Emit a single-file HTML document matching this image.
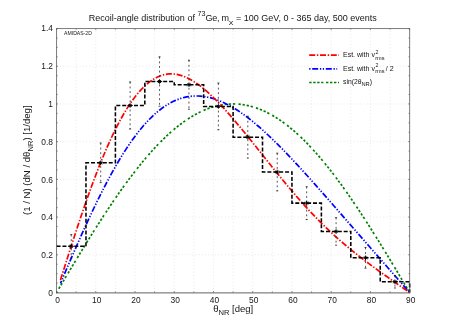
<!DOCTYPE html><html><head><meta charset="utf-8"><style>html,body{margin:0;padding:0;background:#fff}svg{display:block;will-change:transform}text{font-family:"Liberation Sans",sans-serif;fill:#151515}</style></head><body>
<svg width="458" height="321" viewBox="0 0 458 321">
<rect width="458" height="321" fill="#fff"/>
<path d="M76.17,292.50 V28.55 M95.78,292.50 V28.55 M115.40,292.50 V28.55 M135.02,292.50 V28.55 M154.63,292.50 V28.55 M174.25,292.50 V28.55 M193.87,292.50 V28.55 M213.48,292.50 V28.55 M233.10,292.50 V28.55 M252.72,292.50 V28.55 M272.33,292.50 V28.55 M291.95,292.50 V28.55 M311.57,292.50 V28.55 M331.18,292.50 V28.55 M350.80,292.50 V28.55 M370.42,292.50 V28.55 M390.03,292.50 V28.55 M56.55,254.79 H409.65 M56.55,217.09 H409.65 M56.55,179.38 H409.65 M56.55,141.67 H409.65 M56.55,103.96 H409.65 M56.55,66.26 H409.65" stroke="#e0e0e0" stroke-width="0.7" stroke-dasharray="1,2.3" fill="none"/>
<path d="M56.55,292.50 L58.51,289.21 L60.47,285.92 L62.43,282.63 L64.40,279.35 L66.36,276.07 L68.32,272.79 L70.28,269.52 L72.24,266.26 L74.20,263.01 L76.17,259.76 L78.13,256.53 L80.09,253.30 L82.05,250.09 L84.01,246.89 L85.97,243.70 L87.94,240.53 L89.90,237.38 L91.86,234.24 L93.82,231.12 L95.78,228.02 L97.74,224.93 L99.71,221.87 L101.67,218.83 L103.63,215.82 L105.59,212.82 L107.55,209.85 L109.51,206.91 L111.48,203.99 L113.44,201.10 L115.40,198.23 L117.36,195.40 L119.32,192.59 L121.28,189.82 L123.25,187.07 L125.21,184.36 L127.17,181.68 L129.13,179.04 L131.09,176.43 L133.06,173.85 L135.02,171.31 L136.98,168.81 L138.94,166.34 L140.90,163.92 L142.86,161.53 L144.82,159.19 L146.79,156.88 L148.75,154.61 L150.71,152.39 L152.67,150.21 L154.63,148.07 L156.59,145.98 L158.56,143.93 L160.52,141.93 L162.48,139.97 L164.44,138.06 L166.40,136.20 L168.36,134.38 L170.33,132.61 L172.29,130.89 L174.25,129.22 L176.21,127.60 L178.17,126.03 L180.13,124.51 L182.10,123.05 L184.06,121.63 L186.02,120.26 L187.98,118.95 L189.94,117.69 L191.90,116.49 L193.87,115.33 L195.83,114.24 L197.79,113.19 L199.75,112.20 L201.71,111.27 L203.67,110.39 L205.64,109.56 L207.60,108.80 L209.56,108.08 L211.52,107.43 L213.48,106.83 L215.44,106.29 L217.41,105.80 L219.37,105.37 L221.33,105.00 L223.29,104.68 L225.25,104.42 L227.21,104.22 L229.18,104.08 L231.14,103.99 L233.10,103.96 L235.06,103.99 L237.02,104.08 L238.98,104.22 L240.95,104.42 L242.91,104.68 L244.87,105.00 L246.83,105.37 L248.79,105.80 L250.75,106.29 L252.72,106.83 L254.68,107.43 L256.64,108.08 L258.60,108.80 L260.56,109.56 L262.52,110.39 L264.49,111.27 L266.45,112.20 L268.41,113.19 L270.37,114.24 L272.33,115.33 L274.29,116.49 L276.26,117.69 L278.22,118.95 L280.18,120.26 L282.14,121.63 L284.10,123.05 L286.06,124.51 L288.03,126.03 L289.99,127.60 L291.95,129.22 L293.91,130.89 L295.87,132.61 L297.83,134.38 L299.80,136.20 L301.76,138.06 L303.72,139.97 L305.68,141.93 L307.64,143.93 L309.60,145.98 L311.57,148.07 L313.53,150.21 L315.49,152.39 L317.45,154.61 L319.41,156.88 L321.38,159.19 L323.34,161.53 L325.30,163.92 L327.26,166.34 L329.22,168.81 L331.18,171.31 L333.14,173.85 L335.11,176.43 L337.07,179.04 L339.03,181.68 L340.99,184.36 L342.95,187.07 L344.91,189.82 L346.88,192.59 L348.84,195.40 L350.80,198.23 L352.76,201.10 L354.72,203.99 L356.69,206.91 L358.65,209.85 L360.61,212.82 L362.57,215.82 L364.53,218.83 L366.49,221.87 L368.45,224.93 L370.42,228.02 L372.38,231.12 L374.34,234.24 L376.30,237.38 L378.26,240.53 L380.22,243.70 L382.19,246.89 L384.15,250.09 L386.11,253.30 L388.07,256.53 L390.03,259.76 L391.99,263.01 L393.96,266.26 L395.92,269.52 L397.88,272.79 L399.84,276.07 L401.80,279.35 L403.76,282.63 L405.73,285.92 L407.69,289.21 L409.65,292.50" stroke="#008000" stroke-width="1.7" stroke-dasharray="2.3,1.8,2.3,1.8,2.3,1.8,2.3,3.3" stroke-dashoffset="13.5" fill="none"/>
<path d="M60.47,283.30 L62.41,278.75 L64.35,274.22 L66.29,269.69 L68.23,265.18 L70.17,260.69 L72.11,256.21 L74.05,251.76 L75.99,247.33 L77.93,242.93 L79.87,238.56 L81.81,234.22 L83.75,229.92 L85.69,225.65 L87.63,221.42 L89.57,217.24 L91.51,213.10 L93.45,209.01 L95.39,204.97 L97.33,200.98 L99.27,197.04 L101.21,193.16 L103.15,189.33 L105.09,185.57 L107.03,181.87 L108.97,178.23 L110.91,174.66 L112.85,171.15 L114.79,167.71 L116.73,164.34 L118.67,161.05 L120.61,157.82 L122.55,154.68 L124.49,151.60 L126.43,148.61 L128.37,145.69 L130.31,142.85 L132.25,140.09 L134.19,137.41 L136.13,134.82 L138.07,132.30 L140.01,129.87 L141.95,127.52 L143.89,125.26 L145.83,123.08 L147.77,120.99 L149.71,118.98 L151.65,117.06 L153.59,115.22 L155.53,113.47 L157.47,111.81 L159.41,110.23 L161.35,108.73 L163.29,107.32 L165.23,106.00 L167.17,104.76 L169.11,103.61 L171.05,102.54 L172.99,101.55 L174.93,100.65 L176.87,99.83 L178.81,99.09 L180.75,98.43 L182.69,97.85 L184.63,97.35 L186.56,96.93 L188.50,96.59 L190.44,96.32 L192.38,96.13 L194.32,96.02 L196.26,95.98 L198.20,96.01 L200.14,96.11 L202.08,96.28 L204.02,96.53 L205.96,96.84 L207.90,97.21 L209.84,97.66 L211.78,98.16 L213.72,98.74 L215.66,99.37 L217.60,100.06 L219.54,100.81 L221.48,101.62 L223.42,102.49 L225.36,103.41 L227.30,104.39 L229.24,105.42 L231.18,106.50 L233.12,107.63 L235.06,108.81 L237.00,110.03 L238.94,111.30 L240.88,112.62 L242.82,113.98 L244.76,115.38 L246.70,116.82 L248.64,118.30 L250.58,119.82 L252.52,121.38 L254.46,122.97 L256.40,124.60 L258.34,126.26 L260.28,127.95 L262.22,129.67 L264.16,131.42 L266.10,133.20 L268.04,135.00 L269.98,136.84 L271.92,138.69 L273.86,140.57 L275.80,142.48 L277.74,144.40 L279.68,146.35 L281.62,148.32 L283.56,150.30 L285.50,152.31 L287.44,154.33 L289.38,156.36 L291.32,158.41 L293.26,160.48 L295.20,162.56 L297.14,164.65 L299.08,166.76 L301.02,168.87 L302.96,171.00 L304.90,173.14 L306.84,175.28 L308.78,177.44 L310.72,179.60 L312.66,181.77 L314.60,183.94 L316.54,186.13 L318.48,188.32 L320.42,190.51 L322.36,192.71 L324.30,194.91 L326.24,197.12 L328.18,199.33 L330.12,201.54 L332.06,203.76 L334.00,205.98 L335.93,208.20 L337.87,210.42 L339.81,212.64 L341.75,214.87 L343.69,217.09 L345.63,219.32 L347.57,221.54 L349.51,223.77 L351.45,226.00 L353.39,228.23 L355.33,230.45 L357.27,232.68 L359.21,234.90 L361.15,237.13 L363.09,239.35 L365.03,241.58 L366.97,243.80 L368.91,246.02 L370.85,248.25 L372.79,250.47 L374.73,252.69 L376.67,254.90 L378.61,257.12 L380.55,259.34 L382.49,261.55 L384.43,263.77 L386.37,265.98 L388.31,268.20 L390.25,270.41 L392.19,272.62 L394.13,274.83 L396.07,277.04 L398.01,279.25 L399.95,281.46 L401.89,283.67 L403.83,285.88 L405.77,288.08 L407.71,290.29 L409.65,292.50" stroke="#0000ff" stroke-width="1.7" stroke-dasharray="6,1.7,1.3,1.6,1.3,1.7" stroke-dashoffset="3.3" fill="none"/>
<path d="M60.47,280.01 L62.41,273.84 L64.35,267.70 L66.29,261.57 L68.23,255.48 L70.17,249.42 L72.11,243.40 L74.05,237.42 L75.99,231.49 L77.93,225.62 L79.87,219.81 L81.81,214.07 L83.75,208.39 L85.69,202.80 L87.63,197.28 L89.57,191.84 L91.51,186.50 L93.45,181.25 L95.39,176.09 L97.33,171.04 L99.27,166.09 L101.21,161.25 L103.15,156.52 L105.09,151.91 L107.03,147.42 L108.97,143.04 L110.91,138.79 L112.85,134.66 L114.79,130.66 L116.73,126.79 L118.67,123.05 L120.61,119.44 L122.55,115.97 L124.49,112.63 L126.43,109.43 L128.37,106.37 L130.31,103.44 L132.25,100.65 L134.19,98.00 L136.13,95.49 L138.07,93.12 L140.01,90.88 L141.95,88.79 L143.89,86.84 L145.83,85.02 L147.77,83.35 L149.71,81.81 L151.65,80.41 L153.59,79.16 L155.53,78.03 L157.47,77.05 L159.41,76.20 L161.35,75.49 L163.29,74.91 L165.23,74.46 L167.17,74.14 L169.11,73.95 L171.05,73.88 L172.99,73.94 L174.93,74.12 L176.87,74.42 L178.81,74.83 L180.75,75.36 L182.69,75.99 L184.63,76.73 L186.56,77.56 L188.50,78.50 L190.44,79.53 L192.38,80.65 L194.32,81.85 L196.26,83.14 L198.20,84.50 L200.14,85.94 L202.08,87.46 L204.02,89.04 L205.96,90.68 L207.90,92.39 L209.84,94.15 L211.78,95.97 L213.72,97.84 L215.66,99.76 L217.60,101.73 L219.54,103.74 L221.48,105.80 L223.42,107.89 L225.36,110.02 L227.30,112.18 L229.24,114.38 L231.18,116.60 L233.12,118.85 L235.06,121.13 L237.00,123.43 L238.94,125.75 L240.88,128.09 L242.82,130.45 L244.76,132.82 L246.70,135.21 L248.64,137.61 L250.58,140.01 L252.52,142.43 L254.46,144.85 L256.40,147.28 L258.34,149.71 L260.28,152.14 L262.22,154.58 L264.16,157.01 L266.10,159.44 L268.04,161.87 L269.98,164.29 L271.92,166.71 L273.86,169.12 L275.80,171.52 L277.74,173.91 L279.68,176.29 L281.62,178.66 L283.56,181.02 L285.50,183.36 L287.44,185.69 L289.38,188.00 L291.32,190.29 L293.26,192.57 L295.20,194.83 L297.14,197.07 L299.08,199.29 L301.02,201.49 L302.96,203.66 L304.90,205.81 L306.84,207.94 L308.78,210.05 L310.72,212.13 L312.66,214.18 L314.60,216.21 L316.54,218.21 L318.48,220.19 L320.42,222.14 L322.36,224.06 L324.30,225.96 L326.24,227.84 L328.18,229.68 L330.12,231.51 L332.06,233.31 L334.00,235.08 L335.93,236.84 L337.87,238.56 L339.81,240.27 L341.75,241.96 L343.69,243.62 L345.63,245.26 L347.57,246.89 L349.51,248.49 L351.45,250.08 L353.39,251.64 L355.33,253.20 L357.27,254.73 L359.21,256.25 L361.15,257.75 L363.09,259.24 L365.03,260.72 L366.97,262.19 L368.91,263.64 L370.85,265.08 L372.79,266.51 L374.73,267.93 L376.67,269.35 L378.61,270.75 L380.55,272.15 L382.49,273.54 L384.43,274.93 L386.37,276.30 L388.31,277.68 L390.25,279.05 L392.19,280.41 L394.13,281.78 L396.07,283.14 L398.01,284.49 L399.95,285.85 L401.89,287.20 L403.83,288.56 L405.77,289.91 L407.71,291.26 L409.65,292.62" stroke="#ff0000" stroke-width="1.7" stroke-dasharray="6,1.7,1.4,1.7" fill="none"/>
<path d="M71.26,234.62 V258.00 M100.69,142.99 V182.58 M130.11,81.91 V129.04 M159.54,56.83 V106.23 M188.96,60.22 V109.24 M218.39,83.04 V129.79 M247.81,116.22 V158.07 M277.24,153.17 V190.88 M306.66,186.73 V219.54 M336.09,217.65 V245.18 M365.51,247.44 V268.18 M394.94,275.53 V287.98" stroke="#262626" stroke-width="0.78" stroke-dasharray="1.9,2.7" fill="none"/>
<path d="M70.26,234.62 h2 M70.26,258.00 h2 M99.69,142.99 h2 M99.69,182.58 h2 M129.11,81.91 h2 M129.11,129.04 h2 M158.54,56.83 h2 M158.54,106.23 h2 M187.96,60.22 h2 M187.96,109.24 h2 M217.39,83.04 h2 M217.39,129.79 h2 M246.81,116.22 h2 M246.81,158.07 h2 M276.24,153.17 h2 M276.24,190.88 h2 M305.66,186.73 h2 M305.66,219.54 h2 M335.09,217.65 h2 M335.09,245.18 h2 M364.51,247.44 h2 M364.51,268.18 h2 M393.94,275.53 h2 M393.94,287.98 h2" stroke="#1a1a1a" stroke-width="0.8" fill="none"/>
<path d="M56.55,246.31 H85.97 V162.79 H115.40 V105.47 H144.82 V81.53 H174.25 V84.73 H203.67 V106.42 H233.10 V137.15 H262.52 V172.03 H291.95 V203.13 H321.38 V231.41 H350.80 V257.81 H380.22 V281.75 H409.65 V292.50" stroke="#000" stroke-width="1.55" stroke-dasharray="4,1.9" fill="none"/>
<path d="M68.56,246.31 h5.4 M71.26,244.01 v4.6 M69.76,244.81 l3,3 M69.76,247.81 l3,-3 M97.99,162.79 h5.4 M100.69,160.49 v4.6 M99.19,161.29 l3,3 M99.19,164.29 l3,-3 M127.41,105.47 h5.4 M130.11,103.17 v4.6 M128.61,103.97 l3,3 M128.61,106.97 l3,-3 M156.84,81.53 h5.4 M159.54,79.23 v4.6 M158.04,80.03 l3,3 M158.04,83.03 l3,-3 M186.26,84.73 h5.4 M188.96,82.43 v4.6 M187.46,83.23 l3,3 M187.46,86.23 l3,-3 M215.69,106.42 h5.4 M218.39,104.12 v4.6 M216.89,104.92 l3,3 M216.89,107.92 l3,-3 M245.11,137.15 h5.4 M247.81,134.85 v4.6 M246.31,135.65 l3,3 M246.31,138.65 l3,-3 M274.54,172.03 h5.4 M277.24,169.73 v4.6 M275.74,170.53 l3,3 M275.74,173.53 l3,-3 M303.96,203.13 h5.4 M306.66,200.83 v4.6 M305.16,201.63 l3,3 M305.16,204.63 l3,-3 M333.39,231.41 h5.4 M336.09,229.11 v4.6 M334.59,229.91 l3,3 M334.59,232.91 l3,-3 M362.81,257.81 h5.4 M365.51,255.51 v4.6 M364.01,256.31 l3,3 M364.01,259.31 l3,-3 M392.24,281.75 h5.4 M394.94,279.45 v4.6 M393.44,280.25 l3,3 M393.44,283.25 l3,-3" stroke="#000" stroke-width="0.9" fill="none"/>
<path d="M56.55,293.30 V28.55 H409.65 V293.30" fill="none" stroke="#505050" stroke-width="0.75"/>
<path d="M56.18,292.90 H410.02" fill="none" stroke="#505050" stroke-width="0.9"/>
<path d="M56.55,292.50 v-1.50 M56.55,28.55 v1.50 M76.17,292.50 v-1.10 M76.17,28.55 v1.10 M95.78,292.50 v-1.50 M95.78,28.55 v1.50 M115.40,292.50 v-1.10 M115.40,28.55 v1.10 M135.02,292.50 v-1.50 M135.02,28.55 v1.50 M154.63,292.50 v-1.10 M154.63,28.55 v1.10 M174.25,292.50 v-1.50 M174.25,28.55 v1.50 M193.87,292.50 v-1.10 M193.87,28.55 v1.10 M213.48,292.50 v-1.50 M213.48,28.55 v1.50 M233.10,292.50 v-1.10 M233.10,28.55 v1.10 M252.72,292.50 v-1.50 M252.72,28.55 v1.50 M272.33,292.50 v-1.10 M272.33,28.55 v1.10 M291.95,292.50 v-1.50 M291.95,28.55 v1.50 M311.57,292.50 v-1.10 M311.57,28.55 v1.10 M331.18,292.50 v-1.50 M331.18,28.55 v1.50 M350.80,292.50 v-1.10 M350.80,28.55 v1.10 M370.42,292.50 v-1.50 M370.42,28.55 v1.50 M390.03,292.50 v-1.10 M390.03,28.55 v1.10 M409.65,292.50 v-1.50 M409.65,28.55 v1.50 M56.55,292.50 h1.50 M409.65,292.50 h-1.50 M56.55,283.07 h1.10 M409.65,283.07 h-1.10 M56.55,273.65 h1.10 M409.65,273.65 h-1.10 M56.55,264.22 h1.10 M409.65,264.22 h-1.10 M56.55,254.79 h1.50 M409.65,254.79 h-1.50 M56.55,245.37 h1.10 M409.65,245.37 h-1.10 M56.55,235.94 h1.10 M409.65,235.94 h-1.10 M56.55,226.51 h1.10 M409.65,226.51 h-1.10 M56.55,217.09 h1.50 M409.65,217.09 h-1.50 M56.55,207.66 h1.10 M409.65,207.66 h-1.10 M56.55,198.23 h1.10 M409.65,198.23 h-1.10 M56.55,188.81 h1.10 M409.65,188.81 h-1.10 M56.55,179.38 h1.50 M409.65,179.38 h-1.50 M56.55,169.95 h1.10 M409.65,169.95 h-1.10 M56.55,160.53 h1.10 M409.65,160.53 h-1.10 M56.55,151.10 h1.10 M409.65,151.10 h-1.10 M56.55,141.67 h1.50 M409.65,141.67 h-1.50 M56.55,132.24 h1.10 M409.65,132.24 h-1.10 M56.55,122.82 h1.10 M409.65,122.82 h-1.10 M56.55,113.39 h1.10 M409.65,113.39 h-1.10 M56.55,103.96 h1.50 M409.65,103.96 h-1.50 M56.55,94.54 h1.10 M409.65,94.54 h-1.10 M56.55,85.11 h1.10 M409.65,85.11 h-1.10 M56.55,75.68 h1.10 M409.65,75.68 h-1.10 M56.55,66.26 h1.50 M409.65,66.26 h-1.50 M56.55,56.83 h1.10 M409.65,56.83 h-1.10 M56.55,47.40 h1.10 M409.65,47.40 h-1.10 M56.55,37.98 h1.10 M409.65,37.98 h-1.10 M56.55,28.55 h1.50 M409.65,28.55 h-1.50" stroke="#505050" stroke-width="0.65" fill="none"/>
<text x="57.55" y="302.9" font-size="8.4" text-anchor="middle">0</text>
<text x="96.78" y="302.9" font-size="8.4" text-anchor="middle">10</text>
<text x="136.02" y="302.9" font-size="8.4" text-anchor="middle">20</text>
<text x="175.25" y="302.9" font-size="8.4" text-anchor="middle">30</text>
<text x="214.48" y="302.9" font-size="8.4" text-anchor="middle">40</text>
<text x="253.72" y="302.9" font-size="8.4" text-anchor="middle">50</text>
<text x="292.95" y="302.9" font-size="8.4" text-anchor="middle">60</text>
<text x="332.18" y="302.9" font-size="8.4" text-anchor="middle">70</text>
<text x="371.42" y="302.9" font-size="8.4" text-anchor="middle">80</text>
<text x="410.65" y="302.9" font-size="8.4" text-anchor="middle">90</text>
<text x="53.0" y="296.15" font-size="8.4" text-anchor="end">0</text>
<text x="53.0" y="258.28" font-size="8.4" text-anchor="end">0.2</text>
<text x="53.0" y="220.41" font-size="8.4" text-anchor="end">0.4</text>
<text x="53.0" y="182.54" font-size="8.4" text-anchor="end">0.6</text>
<text x="53.0" y="144.67" font-size="8.4" text-anchor="end">0.8</text>
<text x="53.0" y="106.79" font-size="8.4" text-anchor="end">1</text>
<text x="53.0" y="68.92" font-size="8.4" text-anchor="end">1.2</text>
<text x="53.0" y="31.05" font-size="8.4" text-anchor="end">1.4</text>
<text x="194.9" y="20.7" font-size="9" text-anchor="end">Recoil-angle distribution of</text>
<text x="197.4" y="15.9" font-size="7.2">73</text>
<text x="205.6" y="20.7" font-size="9" textLength="23.3" lengthAdjust="spacing">Ge, m</text>
<text transform="translate(228.7,24.4) scale(1.22,0.78)" font-size="7.2">χ</text>
<text x="236" y="20.7" font-size="9">= 100 GeV, 0 - 365 day, 500 events</text>
<text x="213.2" y="312.4" font-size="9.5">θ<tspan font-size="7.6" dy="2.9">NR</tspan><tspan dy="-2.9"> [deg]</tspan></text>
<text transform="translate(30.3,215.0) rotate(-90)" font-size="9.6">(1 / N) (dN / dθ<tspan font-size="7.6" dy="2.9">NR</tspan><tspan dy="-2.9">) [1/deg]</tspan></text>
<text x="64.1" y="34.9" font-size="5.1">AMIDAS-2D</text>
<path d="M309.2,55.1 H339" stroke="#ff0000" stroke-width="1.7" stroke-dasharray="6,1.7,1.4,1.7" fill="none"/>
<path d="M309.2,68.8 H337.2" stroke="#0000ff" stroke-width="1.7" stroke-dasharray="1.3,1.7,6,1.7,1.3,1.6" fill="none"/>
<path d="M309.2,82.5 H323.4 M326,82.5 H339" stroke="#008000" stroke-width="1.7" stroke-dasharray="2.4,1.6" fill="none"/>
<text x="343" y="57.3" font-size="7">Est. with v<tspan font-size="5.3" x="375.6" y="53.5">2</tspan><tspan font-size="5.6" x="375.2" y="59.5">rms</tspan></text>
<text x="343" y="71.0" font-size="7">Est. with v<tspan font-size="5.3" x="375.6" y="67.2">2</tspan><tspan font-size="5.6" x="375.2" y="73.2">rms</tspan><tspan x="385.8" y="71.0">/ 2</tspan></text>
<text x="343" y="83.8" font-size="6.8">sin(2θ<tspan font-size="5.7" dy="1.7">NR</tspan><tspan dy="-1.7">)</tspan></text>
</svg></body></html>
